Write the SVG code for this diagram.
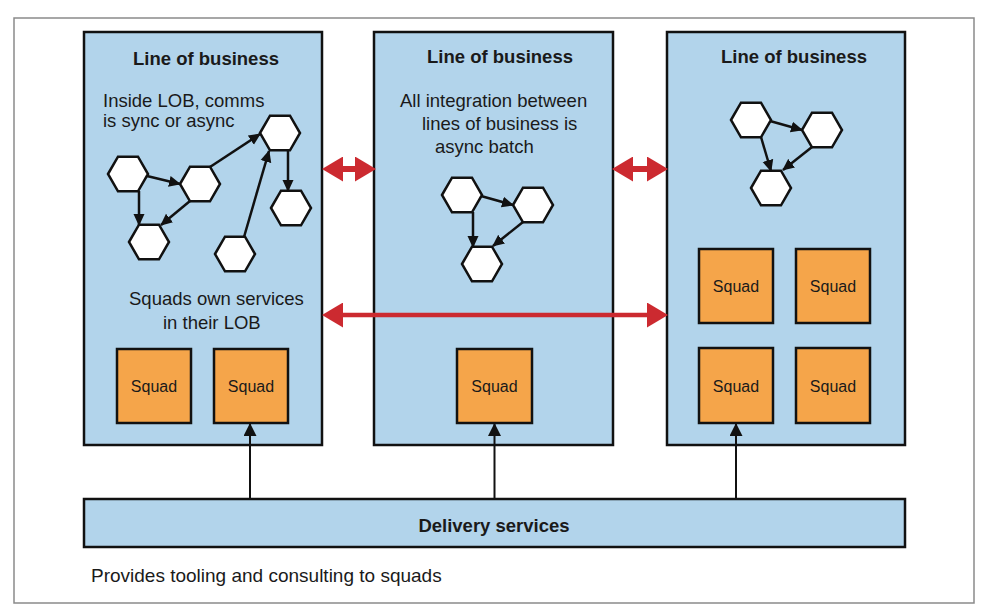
<svg xmlns="http://www.w3.org/2000/svg" width="988" height="616" viewBox="0 0 988 616">
<style>
.panel{fill:#B2D4EB;stroke:#111;stroke-width:2.5}
.squad{fill:#F5A54A;stroke:#111;stroke-width:2.5}
.hex{fill:#fff;stroke:#111;stroke-width:2.5}
.t{font-family:"Liberation Sans",Arial,sans-serif;fill:#1a1a1a}
.title{font-size:18.5px;font-weight:bold;text-anchor:middle}
.body{font-size:18.5px}
.sq{font-size:16px;text-anchor:middle}
.blk{stroke:#111;stroke-width:2.5;fill:none;marker-end:url(#ah)}
.up{stroke:#111;stroke-width:2;fill:none;marker-end:url(#ah2)}
.red{stroke:#CC2A30;fill:none;marker-start:url(#rh);marker-end:url(#rh)}
</style>
<defs>
<marker id="ah" markerUnits="userSpaceOnUse" markerWidth="12" markerHeight="12" viewBox="0 0 12 12" refX="11" refY="6" orient="auto">
<path d="M0,0.5 L12,6 L0,11.5 z" fill="#111"/>
</marker>
<marker id="ah2" markerUnits="userSpaceOnUse" markerWidth="13" markerHeight="13" viewBox="0 0 13 13" refX="12" refY="6.5" orient="auto">
<path d="M0,0 L13,6.5 L0,13 z" fill="#111"/>
</marker>
<marker id="rh" markerUnits="userSpaceOnUse" markerWidth="21" markerHeight="25" viewBox="0 0 21 25" refX="10" refY="12.5" orient="auto-start-reverse">
<path d="M0,0 L21,12.5 L0,25 z" fill="#CC2A30"/>
</marker>
<polygon id="hx" points="-20,0 -10,-17.3 10,-17.3 20,0 10,17.3 -10,17.3"/>
</defs>
<rect x="0" y="0" width="988" height="616" fill="#fff"/>
<rect x="14" y="18" width="960" height="585" fill="none" stroke="#8a8a8a" stroke-width="1.5"/>

<g id="lob1">
<rect class="panel" x="84" y="32" width="238" height="413"/>
<text class="t title" x="206" y="65">Line of business</text>
<text class="t body" x="103" y="107">Inside LOB, comms</text>
<text class="t body" x="103" y="127">is sync or async</text>
<text class="t body" x="129" y="305">Squads own services</text>
<text class="t body" x="163" y="329">in their LOB</text>
</g>
<g id="lob2">
<rect class="panel" x="374" y="32" width="239" height="413"/>
<text class="t title" x="500" y="63">Line of business</text>
<text class="t body" x="400" y="107">All integration between</text>
<text class="t body" x="422" y="130">lines of business is</text>
<text class="t body" x="435" y="153">async batch</text>
</g>
<g id="lob3">
<rect class="panel" x="667" y="32" width="238" height="413"/>
<text class="t title" x="794" y="63">Line of business</text>
</g>
<g id="delivery">
<rect class="panel" x="84" y="499" width="821" height="48"/>
<text class="t title" x="494" y="532">Delivery services</text>
</g>
<g id="note">
<text class="t body" x="91" y="582" style="font-size:19px">Provides tooling and consulting to squads</text>
</g>

<g id="squads">
<g id="sq1a"><rect class="squad" x="117" y="349" width="74" height="74"/><text class="t sq" x="154" y="392">Squad</text></g>
<g id="sq1b"><rect class="squad" x="214" y="349" width="74" height="74"/><text class="t sq" x="251" y="392">Squad</text></g>
<g id="sq2"><rect class="squad" x="457" y="349" width="75" height="74"/><text class="t sq" x="494.5" y="392">Squad</text></g>
<g id="sq3a"><rect class="squad" x="699" y="249" width="74" height="74"/><text class="t sq" x="736" y="292">Squad</text></g>
<g id="sq3b"><rect class="squad" x="796" y="249" width="74" height="74"/><text class="t sq" x="833" y="292">Squad</text></g>
<g id="sq3c"><rect class="squad" x="699" y="348" width="74" height="75"/><text class="t sq" x="736" y="392">Squad</text></g>
<g id="sq3d"><rect class="squad" x="796" y="348" width="74" height="75"/><text class="t sq" x="833" y="392">Squad</text></g>
</g>

<g id="services">
<use href="#hx" class="hex" x="128" y="174"/>
<use href="#hx" class="hex" x="200" y="184"/>
<use href="#hx" class="hex" x="149" y="242"/>
<use href="#hx" class="hex" x="280" y="133"/>
<use href="#hx" class="hex" x="291" y="208"/>
<use href="#hx" class="hex" x="235" y="254"/>
<use href="#hx" class="hex" x="462" y="195"/>
<use href="#hx" class="hex" x="533" y="205"/>
<use href="#hx" class="hex" x="482" y="264"/>
<use href="#hx" class="hex" x="751" y="120"/>
<use href="#hx" class="hex" x="822" y="130"/>
<use href="#hx" class="hex" x="771" y="188"/>
</g>

<g id="connectors">
<line class="blk" x1="147" y1="176" x2="180" y2="184"/>
<line class="blk" x1="139" y1="191" x2="139" y2="225"/>
<line class="blk" x1="190" y1="201" x2="161" y2="225"/>
<line class="blk" x1="210" y1="167" x2="260" y2="134"/>
<line class="blk" x1="244" y1="237" x2="269" y2="151"/>
<line class="blk" x1="288" y1="150" x2="288" y2="191"/>
<line class="blk" x1="481" y1="196" x2="513" y2="205"/>
<line class="blk" x1="473" y1="212" x2="473" y2="247"/>
<line class="blk" x1="523" y1="222" x2="493" y2="246"/>
<line class="blk" x1="770" y1="121" x2="802" y2="130"/>
<line class="blk" x1="761" y1="137" x2="771" y2="171"/>
<line class="blk" x1="812" y1="147" x2="783" y2="170"/>
<line class="up" x1="250" y1="499" x2="250" y2="424"/>
<line class="up" x1="494.5" y1="499" x2="494.5" y2="424"/>
<line class="up" x1="736" y1="499" x2="736" y2="424"/>
<line class="red" stroke-width="6" x1="333" y1="169" x2="365" y2="169"/>
<line class="red" stroke-width="6" x1="623" y1="169" x2="657" y2="169"/>
<line class="red" stroke-width="4.5" x1="333" y1="315" x2="657" y2="315"/>
</g>
</svg>
